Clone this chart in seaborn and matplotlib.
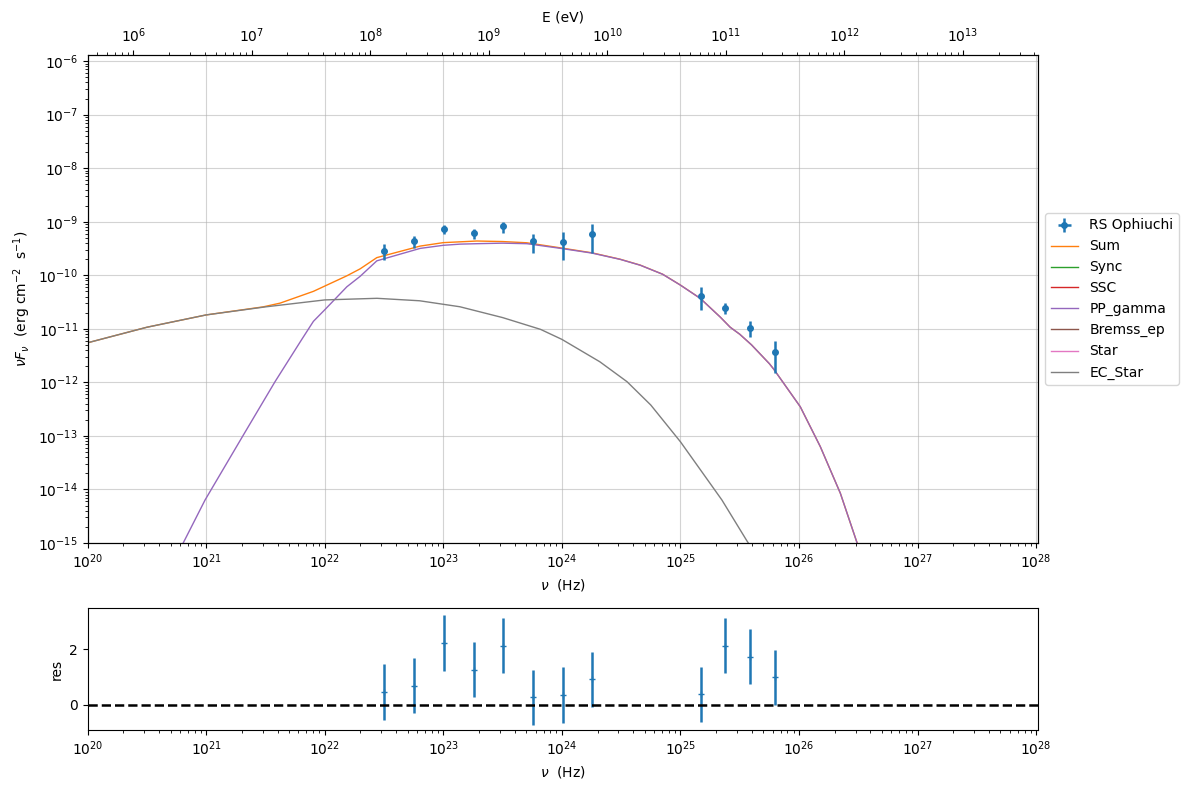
import numpy as np
import matplotlib
matplotlib.use("Agg")
import matplotlib.pyplot as plt
from matplotlib.ticker import LogLocator, NullFormatter
import seaborn as sns

# ---------------- data ----------------
# observed SED points (RS Ophiuchi)
obs_nu = [3.17e22, 5.70e22, 1.02e23, 1.82e23, 3.21e23, 5.73e23, 1.02e24, 1.81e24,
          1.50e25, 2.40e25, 3.83e25, 6.22e25]
obs_flux = [2.90e-10, 4.28e-10, 7.18e-10, 6.04e-10, 8.17e-10, 4.28e-10, 4.10e-10, 5.79e-10,
            4.14e-11, 2.47e-11, 1.045e-11, 3.77e-12]
obs_err = [0.95e-10, 1.07e-10, 1.37e-10, 1.30e-10, 1.90e-10, 1.70e-10, 2.20e-10, 3.20e-10,
           1.90e-11, 5.8e-12, 3.4e-12, 2.26e-12]
residuals = [0.46, 0.70, 2.24, 1.27, 2.14, 0.27, 0.35, 0.92, 0.38, 2.14, 1.74, 0.99]
res_err = [1.0] * 12

# model components: log10(nu) and log10(nuFnu)
sum_lognu = [20.0, 20.5, 21.0, 21.48, 21.623, 21.904, 22.186, 22.298, 22.439, 22.804,
             23.0, 23.142, 23.283, 23.5, 23.705, 23.986, 24.253, 24.492, 24.661, 24.85,
             24.998, 25.167, 25.336, 25.42, 25.5, 25.6, 25.75, 25.786, 26.011, 26.18,
             26.349, 26.489, 26.6]
sum_logF = [-11.26, -10.97, -10.74, -10.59, -10.52, -10.30, -10.01, -9.88, -9.67, -9.455,
            -9.39, -9.375, -9.36, -9.37, -9.393, -9.487, -9.58, -9.70, -9.81, -9.98,
            -10.18, -10.43, -10.78, -10.97, -11.10, -11.30, -11.65, -11.75, -12.455, -13.2,
            -14.07, -14.99, -15.8]

pp_lognu = [20.6, 20.807, 20.99, 21.313, 21.58, 21.806, 21.904, 22.003, 22.186, 22.298,
            22.439, 22.804, 23.0, 23.142, 23.283, 23.5, 23.705, 23.986, 24.253, 24.492,
            24.661, 24.85, 24.998, 25.167, 25.336, 25.42, 25.5, 25.6, 25.75, 25.786,
            26.011, 26.18, 26.349, 26.489, 26.6]
pp_logF = [-15.9, -14.994, -14.197, -12.984, -11.988, -11.197, -10.86, -10.637, -10.215, -10.02,
           -9.73, -9.498, -9.44, -9.418, -9.41, -9.40, -9.41, -9.496, -9.585, -9.703,
           -9.812, -9.981, -10.181, -10.431, -10.781, -10.971, -11.10, -11.30, -11.65, -11.75,
           -12.455, -13.2, -14.07, -14.99, -15.8]

ec_lognu = [20.0, 20.5, 21.0, 21.5, 22.0, 22.44, 22.8, 23.14, 23.5, 23.82, 24.0, 24.32,
            24.55, 24.75, 25.0, 25.17, 25.35, 25.56, 25.75]
ec_logF = [-11.26, -10.97, -10.74, -10.59, -10.46, -10.43, -10.476, -10.588, -10.79, -11.01,
           -11.197, -11.615, -11.988, -12.423, -13.109, -13.637, -14.197, -14.957, -15.6]

component_names = ["Sum", "Sync", "SSC", "PP_gamma", "Bremss_ep", "Star", "EC_Star"]
component_colors = ["#ff7f0e", "#2ca02c", "#d62728", "#9467bd", "#8c564b", "#e377c2", "#7f7f7f"]

H_EV = 4.135667e-15
xlim = (1e20, 1.04e28)
ylim = (1e-15, 1.3e-6)

# ---------------- figure ----------------
fig = plt.figure(figsize=(11.89, 7.9), dpi=100)
ax = fig.add_axes([0.07376, 0.31266, 0.7993, 0.6177])
axr = fig.add_axes([0.07376, 0.07595, 0.7993, 0.15443])

for a in (ax,):
    a.set_xscale("log")
    a.set_yscale("log")
axr.set_xscale("log")

series = {
    "Sum": (sum_lognu, sum_logF),
    "PP_gamma": (pp_lognu, pp_logF),
    "EC_Star": (ec_lognu, ec_logF),
}
line_handles = []
for name, col in zip(component_names, component_colors):
    if name in series:
        lx, ly = series[name]
        sns.lineplot(x=10 ** np.array(lx), y=10 ** np.array(ly), ax=ax, color=col,
                     lw=1, label=name, estimator=None, sort=False)
        line_handles.append(ax.lines[-1])
    else:
        h, = ax.plot([], [], color=col, lw=1, label=name)
        line_handles.append(h)

eb = ax.errorbar(obs_nu, obs_flux, yerr=obs_err, xerr=[0] * len(obs_nu), fmt="o",
                 ms=4, color="#1f77b4", elinewidth=1.8, capsize=0, label="RS Ophiuchi")

ax.set_xlim(*xlim)
ax.set_ylim(*ylim)
ax.yaxis.set_major_locator(LogLocator(base=10, numticks=20))
ax.yaxis.set_minor_locator(LogLocator(base=10, subs=np.arange(2, 10), numticks=20))
ax.yaxis.set_minor_formatter(NullFormatter())
ax.xaxis.set_major_locator(LogLocator(base=10, numticks=20))
ax.grid(True, which="major", color="#b0b0b0", alpha=0.55, lw=0.8)
ax.set_axisbelow(True)
ax.set_xlabel(r"$\nu$  (Hz)")
ax.set_ylabel(r"$\nu F_{\nu}$  (erg cm$^{-2}$  s$^{-1}$)")

handles = [eb] + line_handles
labels = ["RS Ophiuchi"] + component_names
ax.legend(handles, labels, loc="center left", bbox_to_anchor=(1.0, 0.5), fontsize=10)

# top energy axis
axt = ax.twiny()
axt.set_xscale("log")
axt.set_xlim(xlim[0] * H_EV, xlim[1] * H_EV)
axt.xaxis.set_major_locator(LogLocator(base=10, numticks=20))
axt.set_xlabel("E (eV)")

# residual panel
axr.errorbar(obs_nu, residuals, yerr=res_err, xerr=[0] * len(obs_nu), fmt="+",
             ms=5, color="#1f77b4", elinewidth=1.8, capsize=0)
axr.axhline(0, ls="--", color="k", lw=1.8)
axr.set_xlim(*xlim)
axr.set_ylim(-0.9, 3.49)
axr.set_yticks([0, 2])
axr.xaxis.set_major_locator(LogLocator(base=10, numticks=20))
axr.set_xlabel(r"$\nu$  (Hz)")
axr.set_ylabel("res")

fig.savefig("out.png", dpi=100)
